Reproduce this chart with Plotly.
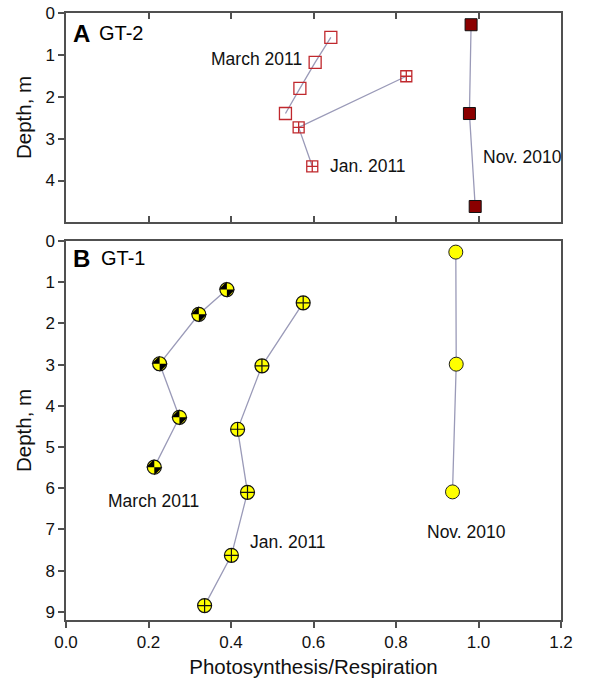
import plotly.graph_objects as go

# ---- Data: GT-2 (panel A) ----
gt2_nov_x = [0.982, 0.978, 0.992]
gt2_nov_d = [0.28, 2.40, 4.62]
gt2_mar_x = [0.642, 0.604, 0.567, 0.532]
gt2_mar_d = [0.58, 1.18, 1.80, 2.40]
gt2_jan_x = [0.825, 0.564, 0.597]
gt2_jan_d = [1.51, 2.73, 3.66]

# ---- Data: GT-1 (panel B) ----
gt1_nov_x = [0.945, 0.946, 0.937]
gt1_nov_d = [0.27, 2.99, 6.09]
gt1_mar_x = [0.390, 0.322, 0.227, 0.275, 0.214]
gt1_mar_d = [1.18, 1.78, 2.98, 4.28, 5.49]
gt1_jan_x = [0.575, 0.475, 0.416, 0.440, 0.401, 0.336]
gt1_jan_d = [1.50, 3.03, 4.57, 6.10, 7.63, 8.85]

x_ticks = [0.0, 0.2, 0.4, 0.6, 0.8, 1.0, 1.2]
top_depth_ticks = [0, 1, 2, 3, 4]
bot_depth_ticks = [0, 1, 2, 3, 4, 5, 6, 7, 8, 9]

LINE = "#9a9ab8"
DARKRED = "#8b0000"
RED = "#c0282d"
YELLOW = "#ffff00"
FONT = "Liberation Sans, Arial, sans-serif"

fig = go.Figure()

def conn(x, y, ax):
    fig.add_trace(go.Scatter(x=x, y=y, mode="lines", line=dict(color=LINE, width=1.3),
                             xaxis="x" if ax == 1 else "x2", yaxis="y" if ax == 1 else "y2",
                             showlegend=False, hoverinfo="skip"))

# Panel A lines
conn(gt2_nov_x, gt2_nov_d, 1)
conn(gt2_mar_x, gt2_mar_d, 1)
conn(gt2_jan_x, gt2_jan_d, 1)
# Panel A markers
fig.add_trace(go.Scatter(x=gt2_nov_x, y=gt2_nov_d, mode="markers", xaxis="x", yaxis="y",
                         marker=dict(symbol="square", size=12, color=DARKRED, line=dict(color="#111", width=1)),
                         showlegend=False))
fig.add_trace(go.Scatter(x=gt2_mar_x, y=gt2_mar_d, mode="markers", xaxis="x", yaxis="y",
                         marker=dict(symbol="square-open", size=12, color=RED, line=dict(width=1.3)),
                         showlegend=False))
fig.add_trace(go.Scatter(x=gt2_jan_x, y=gt2_jan_d, mode="markers", xaxis="x", yaxis="y",
                         marker=dict(symbol="square-cross-open", size=11, color=RED, line=dict(width=1.3)),
                         showlegend=False))

# Panel B lines
conn(gt1_nov_x, gt1_nov_d, 2)
conn(gt1_mar_x, gt1_mar_d, 2)
conn(gt1_jan_x, gt1_jan_d, 2)
# Panel B markers
fig.add_trace(go.Scatter(x=gt1_nov_x, y=gt1_nov_d, mode="markers", xaxis="x2", yaxis="y2",
                         marker=dict(symbol="circle", size=14, color=YELLOW, line=dict(color="#222", width=1)),
                         showlegend=False))
fig.add_trace(go.Scatter(x=gt1_jan_x, y=gt1_jan_d, mode="markers", xaxis="x2", yaxis="y2",
                         marker=dict(symbol="circle-cross", size=14, color=YELLOW, line=dict(color="#111", width=1.2)),
                         showlegend=False))
# March: quartered yellow/black circle
fig.add_trace(go.Scatter(x=gt1_mar_x, y=gt1_mar_d, mode="markers", xaxis="x2", yaxis="y2",
                         marker=dict(symbol="circle", size=14, color=YELLOW, line=dict(width=0)),
                         showlegend=False, hoverinfo="skip"))
fig.add_trace(go.Scatter(x=gt1_mar_x, y=gt1_mar_d, mode="markers", xaxis="x2", yaxis="y2",
                         marker=dict(symbol="hourglass", size=11.5, color="#000", angle=-45, line=dict(width=0)),
                         showlegend=False, hoverinfo="skip"))
fig.add_trace(go.Scatter(x=gt1_mar_x, y=gt1_mar_d, mode="markers", xaxis="x2", yaxis="y2",
                         marker=dict(symbol="circle-open", size=14, color="#111", line=dict(width=1.2)),
                         showlegend=False))

ann_font = dict(family=FONT, size=17.5, color="#111")
anns = [
    dict(x=0.463, y=1.09, xref="x", yref="y", text="March 2011"),
    dict(x=0.733, y=3.66, xref="x", yref="y", text="Jan. 2011"),
    dict(x=1.106, y=3.44, xref="x", yref="y", text="Nov. 2010"),
    dict(x=0.211, y=6.31, xref="x2", yref="y2", text="March 2011"),
    dict(x=0.538, y=7.30, xref="x2", yref="y2", text="Jan. 2011"),
    dict(x=0.972, y=7.06, xref="x2", yref="y2", text="Nov. 2010"),
]
annotations = [dict(a, showarrow=False, font=ann_font, xanchor="center", yanchor="middle") for a in anns]
annotations += [
    dict(x=0.013, y=0.48, xref="x", yref="y", text="<b>A</b>", showarrow=False,
         font=dict(family=FONT, size=24, color="#000"), xanchor="left", yanchor="middle"),
    dict(x=0.075, y=0.48, xref="x", yref="y", text="GT-2", showarrow=False,
         font=dict(family=FONT, size=20, color="#000"), xanchor="left", yanchor="middle"),
    dict(x=0.011, y=0.42, xref="x2", yref="y2", text="<b>B</b>", showarrow=False,
         font=dict(family=FONT, size=24, color="#000"), xanchor="left", yanchor="middle"),
    dict(x=0.079, y=0.42, xref="x2", yref="y2", text="GT-1", showarrow=False,
         font=dict(family=FONT, size=20, color="#000"), xanchor="left", yanchor="middle"),
]

AX = "#505050"
tickfont = dict(family=FONT, size=17, color="#111")
titlefont = dict(family=FONT, size=20.5, color="#111")

fig.update_layout(
    width=589, height=682,
    margin=dict(l=66, r=28, t=13, b=62),
    paper_bgcolor="white", plot_bgcolor="white",
    showlegend=False,
    annotations=annotations,
    xaxis=dict(domain=[0, 1], range=[0, 1.2], tickvals=x_ticks, showticklabels=False,
               ticks="inside", ticklen=6, tickwidth=1.5, tickcolor=AX,
               showline=True, linecolor=AX, linewidth=1.5, mirror="ticks",
               showgrid=False, zeroline=False, anchor="y", automargin=False),
    yaxis=dict(domain=[0.6557, 1], range=[4.99, 0], tickvals=top_depth_ticks,
               ticks="outside", ticklen=6, tickwidth=1.5, tickcolor=AX, tickfont=tickfont,
               showline=True, linecolor=AX, linewidth=1.5, mirror=True,
               showgrid=False, zeroline=False, anchor="x", automargin=False,
               title=dict(text="Depth, m", font=titlefont, standoff=8)),
    xaxis2=dict(domain=[0, 1], range=[0, 1.2], tickvals=x_ticks, tickformat=".1f",
                ticks="outside", ticklen=6, tickwidth=1.5, tickcolor=AX, tickfont=tickfont,
                showline=True, linecolor=AX, linewidth=1.5, mirror=True,
                showgrid=False, zeroline=False, anchor="y2", automargin=False,
                title=dict(text="Photosynthesis/Respiration", font=titlefont, standoff=8)),
    yaxis2=dict(domain=[0, 0.6244], range=[9.2, 0], tickvals=bot_depth_ticks,
                ticks="outside", ticklen=6, tickwidth=1.5, tickcolor=AX, tickfont=tickfont,
                showline=True, linecolor=AX, linewidth=1.5, mirror=True,
                showgrid=False, zeroline=False, anchor="x2", automargin=False,
                title=dict(text="Depth, m", font=titlefont, standoff=8)),
)

fig.write_html("out.html")
